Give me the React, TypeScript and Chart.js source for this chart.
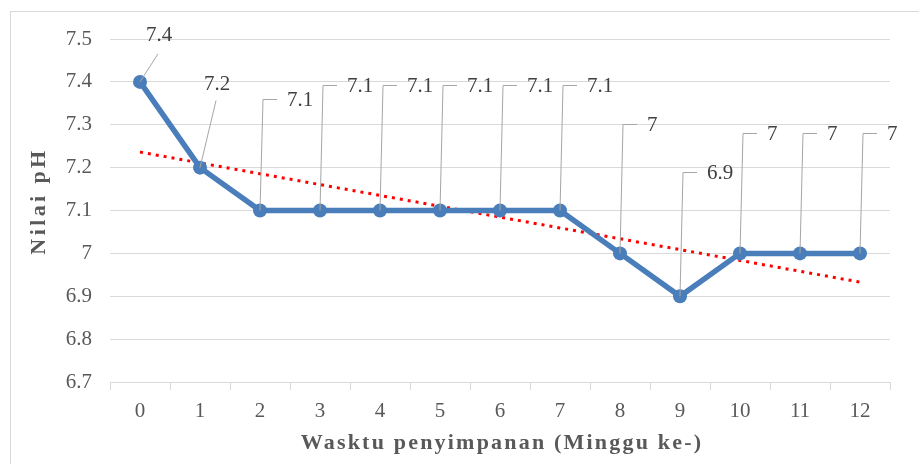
import React, { useEffect, useRef } from "react";
import { Chart, registerables } from "chart.js";

Chart.register(...registerables);

// ---- data ----
const weeks = ["0", "1", "2", "3", "4", "5", "6", "7", "8", "9", "10", "11", "12"];
const phValues = [7.4, 7.2, 7.1, 7.1, 7.1, 7.1, 7.1, 7.1, 7.0, 6.9, 7.0, 7.0, 7.0];
const yTickValues = [6.7, 6.8, 6.9, 7.0, 7.1, 7.2, 7.3, 7.4, 7.5];
const yTitle = "Nilai pH";
const xTitle = "Wasktu penyimpanan (Minggu ke-)";

// ---- callout layout (label placement relative to each point, px) ----
type Callout =
  | { kind: "diag"; lx: number; ly: number; tx: number; ty: number }
  | { kind: "elbow"; rise: number };
const callouts: Callout[] = [
  { kind: "diag", lx: 18, ly: -28, tx: 19, ty: -46 },
  { kind: "diag", lx: 16, ly: -67, tx: 17, ty: -83 },
  { kind: "elbow", rise: -112 },
  { kind: "elbow", rise: -126 },
  { kind: "elbow", rise: -126 },
  { kind: "elbow", rise: -126 },
  { kind: "elbow", rise: -126 },
  { kind: "elbow", rise: -126 },
  { kind: "elbow", rise: -129 },
  { kind: "elbow", rise: -124 },
  { kind: "elbow", rise: -120 },
  { kind: "elbow", rise: -120 },
  { kind: "elbow", rise: -120 },
];

const FONT = "'Liberation Serif', 'Times New Roman', serif";
const TEXT = "#595959";
const GRID = "#d9d9d9";

function fmt(v: number): string {
  return String(Number(v.toFixed(1)));
}

// linear least-squares trendline (Excel style)
function trend(values: number[]): number[] {
  const n = values.length;
  const mx = (n - 1) / 2;
  const my = values.reduce((a, b) => a + b, 0) / n;
  let sxy = 0;
  let sxx = 0;
  values.forEach((y, x) => {
    sxy += (x - mx) * (y - my);
    sxx += (x - mx) * (x - mx);
  });
  const slope = sxy / sxx;
  return values.map((_, x) => my + slope * (x - mx));
}

const decorPlugin = {
  id: "decor",
  beforeDraw(chart: any) {
    const ctx = chart.ctx;
    ctx.save();
    ctx.fillStyle = "#ffffff";
    ctx.fillRect(0, 0, chart.width, chart.height);
    ctx.strokeStyle = GRID;
    ctx.lineWidth = 1;
    ctx.strokeRect(10.5, 11.5, 2000, 2000);
    ctx.restore();
  },
  afterDatasetsDraw(chart: any) {
    const ctx = chart.ctx;
    const meta = chart.getDatasetMeta(1);
    ctx.save();
    ctx.strokeStyle = "#a6a6a6";
    ctx.lineWidth = 1;
    ctx.fillStyle = "#404040";
    ctx.font = `21px ${FONT}`;
    meta.data.forEach((pt: any, i: number) => {
      const c = callouts[i];
      const px = pt.x;
      const py = pt.y;
      const label = fmt(phValues[i]);
      if (c.kind === "diag") {
        ctx.beginPath();
        ctx.moveTo(px, py);
        ctx.lineTo(px + c.lx, py + c.ly);
        ctx.stroke();
        ctx.textAlign = "center";
        ctx.textBaseline = "middle";
        ctx.fillText(label, px + c.tx, py + c.ty);
      } else {
        const top = Math.round(py + c.rise) + 0.5;
        ctx.beginPath();
        ctx.moveTo(px, py);
        ctx.lineTo(px + 3, top);
        ctx.lineTo(px + 17, top);
        ctx.stroke();
        ctx.textAlign = "left";
        ctx.textBaseline = "middle";
        ctx.fillText(label, px + 27, top + 1);
      }
    });
    ctx.restore();
  },
  afterDraw(chart: any) {
    const ctx = chart.ctx;
    ctx.save();
    ctx.fillStyle = TEXT;
    ctx.font = `bold 22px ${FONT}`;
    ctx.textAlign = "center";
    ctx.textBaseline = "middle";
    (ctx as any).letterSpacing = "2.2px";
    ctx.fillText(xTitle, 502, 443);
    (ctx as any).letterSpacing = "3.4px";
    ctx.translate(39, 201);
    ctx.rotate(-Math.PI / 2);
    ctx.fillText(yTitle, 0, 0);
    ctx.restore();
  },
};

export default function App() {
  const ref = useRef<HTMLCanvasElement | null>(null);

  useEffect(() => {
    if (!ref.current) return;
    const chart = new Chart(ref.current, {
      type: "line",
      data: {
        labels: weeks,
        datasets: [
          {
            label: "Trend",
            data: trend(phValues),
            borderColor: "#ff0000",
            borderWidth: 3,
            borderDash: [3, 5],
            borderCapStyle: "butt",
            pointRadius: 0,
            fill: false,
            order: 2,
          },
          {
            label: "pH",
            data: phValues,
            borderColor: "#4a7ebb",
            backgroundColor: "#4a7ebb",
            borderWidth: 5.5,
            pointRadius: 7,
            pointBorderWidth: 0,
            pointBackgroundColor: "#4a7ebb",
            fill: false,
            order: 1,
          },
        ],
      },
      options: {
        responsive: false,
        animation: false,
        events: [],
        layout: { padding: { left: 0, right: 29, top: 39, bottom: 0 } },
        plugins: {
          legend: { display: false },
          tooltip: { enabled: false },
        },
        scales: {
          x: {
            type: "category",
            offset: true,
            grid: {
              offset: true,
              drawOnChartArea: false,
              drawTicks: true,
              tickLength: 8,
              color: GRID,
            },
            border: { display: true, color: GRID },
            ticks: {
              color: TEXT,
              font: { family: FONT, size: 21 },
              padding: 9,
              maxRotation: 0,
            },
            afterFit: (s: any) => {
              s.height = 82;
            },
          },
          y: {
            min: 6.7,
            max: 7.5,
            afterBuildTicks: (s: any) => {
              s.ticks = yTickValues.map((v) => ({ value: v }));
            },
            grid: { color: GRID, drawTicks: false },
            border: { display: false },
            ticks: {
              color: TEXT,
              font: { family: FONT, size: 21 },
              padding: 18,
              callback: (v: any) => fmt(Number(v)),
            },
            afterFit: (s: any) => {
              s.width = 110;
            },
          },
        },
      },
      plugins: [decorPlugin],
    });
    return () => chart.destroy();
  }, []);

  return (
    <canvas
      ref={ref}
      width={919}
      height={464}
      style={{ position: "absolute", left: 0, top: 0, display: "block" }}
    />
  );
}
